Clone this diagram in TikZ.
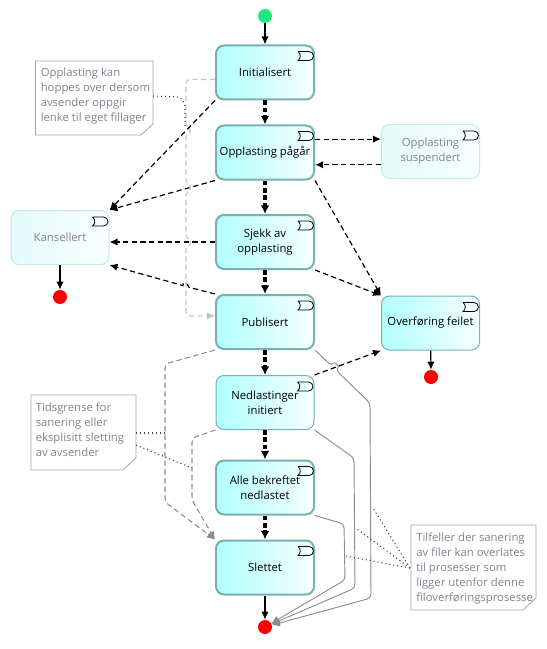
\documentclass[tikz,border=0pt]{standalone}
\usepackage{fontspec}
\setmainfont{Open Sans}
\usetikzlibrary{arrows.meta}
\definecolor{stateline}{RGB}{122,176,176}
\definecolor{statefill}{RGB}{176,255,255}
\definecolor{paleline}{RGB}{200,232,232}
\definecolor{palefill}{RGB}{228,251,251}
\definecolor{notetext}{RGB}{135,128,145}
\definecolor{noteline}{RGB}{165,165,165}
\definecolor{startgreen}{RGB}{30,232,128}
\definecolor{skipgray}{RGB}{195,195,195}
\definecolor{endgray}{RGB}{140,140,140}
\newcommand{\stateicon}[1]{\draw[icon] ([shift={(-17,7)}]#1.north east) -- ++(11,0) arc(-90:90:4.5) -- ++(-11,0) .. controls +(3,-2) and +(3,2) .. ++(0,-9);}

\begin{document}
\begin{tikzpicture}[x=0.75pt,y=-0.75pt,
  every node/.append style={font=\fontsize{8.5}{11.25}\selectfont,align=center},
  state/.style={draw=stateline,line width=1.5pt,rounded corners=6pt,left color=statefill,right color=statefill!12!white,minimum width=73.5pt,minimum height=40.5pt,inner sep=0pt},
  lightstate/.style={state,line width=0.75pt},
  pale/.style={state,draw=paleline,line width=0.75pt,left color=palefill,right color=palefill!30!white,text=notetext},
  dot/.style={circle,fill,inner sep=0pt,minimum size=10.5pt},
  icon/.style={draw=black,line width=0.6pt},
  flow/.style={line width=2.4pt,dash pattern=on 3.5pt off 2pt,-{Latex[length=6.5pt,width=6.5pt]}},
  trans/.style={line width=0.9pt,dash pattern=on 4pt off 2.5pt,-{Latex[length=6pt,width=5.5pt]}},
  solidarrow/.style={line width=0.9pt,-{Latex[length=6pt,width=5.5pt]}},
  skip/.style={skipgray,line width=0.8pt,dash pattern=on 4pt off 2.5pt,rounded corners=3pt,-{Latex[length=6pt,width=5.5pt]}},
  purge/.style={skip,endgray},
  finish/.style={endgray,line width=0.7pt,rounded corners=3pt,-{Latex[length=6pt,width=5.5pt]}},
  link/.style={black!75,line width=0.8pt,dash pattern=on 0.8pt off 2.2pt,rounded corners=3pt},
  note/.style={draw=noteline,line width=0.6pt,fill=white},
  notetxt/.style={text=notetext,align=left,anchor=north west,inner sep=0pt}]
\useasboundingbox (0,0) rectangle (546,649);

% states
\node(start) [dot,fill=startgreen] at (265,16) {};
\node(init) [state] at (265,72.5) {Initialisert};
\node(upl) [state] at (265,152.5) {Opplasting pågår};
\node(susp) [pale] at (430.5,151.5) {Opplasting\\suspendert};
\node(kans) [pale] at (60,237.5) {Kansellert};
\node(sjekk) [state] at (265,242) {Sjekk av\\opplasting};
\node(publ) [state] at (265,322) {Publisert};
\node(feil) [lightstate] at (430.5,323) {Overføring feilet};
\node(nedl) [lightstate] at (265,402.5) {Nedlastinger\\initiert};
\node(alle) [state] at (265,487.5) {Alle bekreftet\\nedlastet};
\node(slett) [state] at (265,567.5) {Slettet};
\node(end) [dot,fill=red] at (265,627) {};
\node(kansend) [dot,fill=red] at (60,297) {};
\node(feilend) [dot,fill=red] at (431,377) {};
\foreach \s in {init,upl,susp,kans,sjekk,publ,feil,nedl,alle,slett} {\stateicon{\s}}

% main flow
\draw[solidarrow] (start) -- (init);
\draw[flow] (init) -- (upl);
\draw[flow] (upl) -- (sjekk);
\draw[flow] (sjekk) -- (publ);
\draw[flow] (publ) -- (nedl);
\draw[flow] (nedl) -- (alle);
\draw[flow] (alle) -- (slett);
\draw[solidarrow] (slett) -- (end);
\draw[solidarrow] (kans) -- (kansend);
\draw[solidarrow] (feil) -- (feilend);

% other transitions
\draw[trans] (upl.15) -- (upl.15 -| susp.west);
\draw[trans] (susp.195) -- (susp.195 -| upl.east);
\draw[trans] (init.south west) -- (kans.north east);
\draw[trans] (upl.south west) -- (kans.north east);
\draw[trans] (sjekk.west) -- (sjekk.west -| kans.east);
\draw[trans] (publ.north west) -- (189,287.3) .. controls +(-1,-4.5) and +(-1,-4.5) .. (183,285.6) -- (kans.south east);
\draw[trans] (upl.south east) -- (feil.north west);
\draw[trans] (sjekk.south east) -- (feil.north west);
\draw[trans] (nedl.north east) -- (feil.south west);

% skip and clean-up
\coordinate(skipbend) at (186,316);
\draw[skip] (init.188) -- (186,79.4) -- (186,127.6) .. controls +(4,0) and +(4,0) .. (186,133.6) -- (186,185.2) .. controls +(4,0) and +(4,0) .. (186,191.2) -- (186,239) .. controls +(4,0) and +(4,0) .. (186,245) -- (skipbend) -- (publ.173);
\coordinate(pa) at (165,364);
\coordinate(pb) at (165,502);
\draw[purge] (publ.south west) -- (pa) -- (pb) -- (slett.north west);
\coordinate(qa) at (192,438);
\coordinate(qb) at (192,500);
\draw[purge] (nedl.south west) -- (qa) -- (qb) -- (slett.north west);
\coordinate(ra) at (370,403);
\coordinate(rb) at (371,598);
\draw[finish] (publ.south east) -- (331.5,365.9) .. controls +(3.5,-3.6) and +(3.5,-3.6) .. (335.5,369.7) -- (ra) -- (rb) -- (end);
\coordinate(sa) at (354,458);
\coordinate(sb) at (355,588);
\draw[finish] (nedl.south east) -- (sa) -- (sb) -- (end);
\coordinate(ta) at (344,524);
\coordinate(tb) at (345,580);
\draw[finish] (alle.south east) -- (ta) -- (tb) -- (end);

% notes
\draw[note] (35.5,61) -- (153,61) -- (153,124) -- (141,135) -- (35.5,135) -- cycle;
\node(notea) [notetxt] at (40.5,68) {Opplasting kan\\hoppes over dersom\\avsender oppgir\\lenke til eget fillager};
\draw[note] (31,395) -- (136,395) -- (136,458) -- (123,470) -- (31,470) -- cycle;
\node(noteb) [notetxt] at (35.5,403) {Tidsgrense for\\sanering eller\\eksplisitt sletting\\av avsender};
\draw[note] (411,525) -- (536,525) -- (536,598) -- (523,610) -- (411,610) -- cycle;
\node(notec) [notetxt] at (416,533) {Tilfeller der sanering\\av filer kan overlates\\til prosesser som\\ligger utenfor denne\\filoverføringsprosesse};
\draw[link] (153,96) -- (181,97) -- (185,104) -- (185,126);
\draw[link] (136,433) -- (pa |- 0,433);
\draw[link] (136,445) -- (192,468);
\draw[link] (410,568) -- (373,508);
\draw[link] (410,568) -- (357,529);
\draw[link] (410,568) -- (346,556);
\end{tikzpicture}
\end{document}
